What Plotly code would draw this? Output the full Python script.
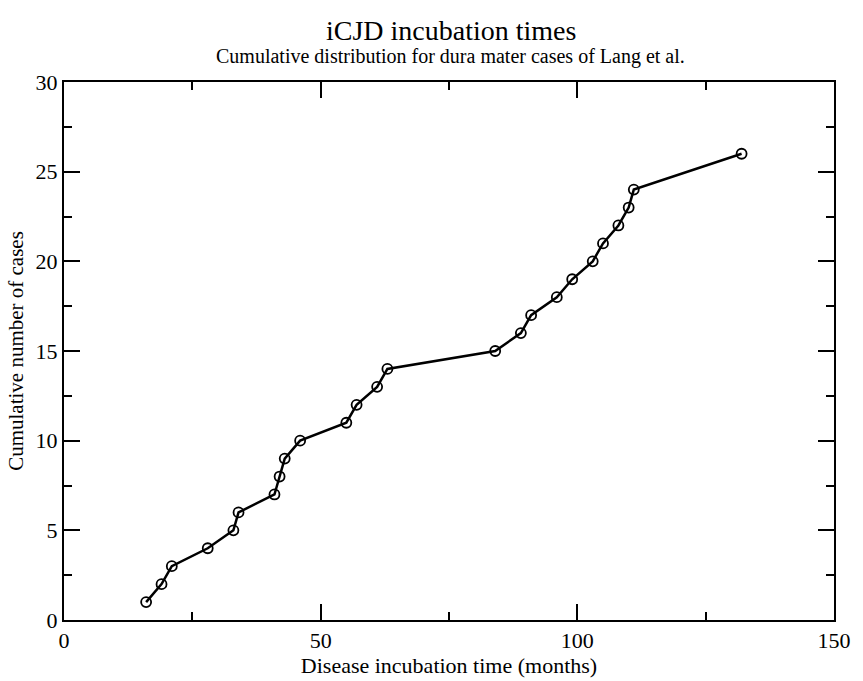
import plotly.graph_objects as go

# Incubation times (months) of dura mater iCJD cases, and the running case count
incubation_months = [16, 19, 21, 28, 33, 34, 41, 42, 43, 46, 55, 57, 61, 63,
                     84, 89, 91, 96, 99, 103, 105, 108, 110, 111, 132]
cumulative_cases = [1, 2, 3, 4, 5, 6, 7, 8, 9, 10, 11, 12, 13, 14,
                    15, 16, 17, 18, 19, 20, 21, 22, 23, 24, 26]

x_ticks = [0, 50, 100, 150]
y_ticks = [0, 5, 10, 15, 20, 25, 30]

SERIF = "Liberation Serif, Times New Roman, serif"
W, H = 863, 681
M_L, M_R, M_T, M_B = 64, 21, 82, 55

fig = go.Figure()
fig.add_trace(go.Scatter(
    x=incubation_months,
    y=cumulative_cases,
    mode="lines+markers",
    line=dict(color="black", width=2.5),
    marker=dict(symbol="circle-open", size=10, color="black",
                line=dict(width=1.8, color="black")),
    showlegend=False,
))

axis_common = dict(
    showgrid=False,
    zeroline=False,
    showline=True,
    linecolor="black",
    linewidth=2,
    mirror="ticks",
    ticks="inside",
    ticklen=16,
    tickwidth=1.5,
    tickcolor="black",
    tickfont=dict(family=SERIF, size=22, color="black"),
)

fig.update_xaxes(
    range=[0, 150],
    tickvals=x_ticks,
    ticktext=[str(v) for v in x_ticks],
    minor=dict(dtick=25, tick0=0, ticks="inside", ticklen=8,
               tickwidth=1.5, tickcolor="black"),
    title=dict(text="Disease incubation time (months)",
               font=dict(family=SERIF, size=22, color="black"), standoff=0),
    **axis_common,
)
fig.update_yaxes(
    range=[0, 30],
    tickvals=y_ticks,
    ticktext=[str(v) for v in y_ticks],
    minor=dict(dtick=2.5, tick0=0, ticks="inside", ticklen=8,
               tickwidth=1.5, tickcolor="black"),
    title=dict(text="Cumulative number of cases",
               font=dict(family=SERIF, size=21, color="black"), standoff=6),
    **axis_common,
)

plot_w = W - M_L - M_R
plot_h = H - M_T - M_B


def px_to_paper_x(px):
    return (px - M_L) / plot_w


def px_to_paper_y(py):
    return 1 + (M_T - py) / plot_h


fig.update_layout(
    width=W,
    height=H,
    margin=dict(l=M_L, r=M_R, t=M_T, b=M_B),
    paper_bgcolor="white",
    plot_bgcolor="white",
    annotations=[
        dict(text="iCJD incubation times",
             x=px_to_paper_x(455), y=px_to_paper_y(30),
             xref="paper", yref="paper", yanchor="middle", showarrow=False,
             font=dict(family=SERIF, size=28, color="black")),
        dict(text="Cumulative distribution for dura mater cases of Lang et al.",
             x=px_to_paper_x(455), y=px_to_paper_y(56),
             xref="paper", yref="paper", yanchor="middle", showarrow=False,
             font=dict(family=SERIF, size=20, color="black")),
    ],
)

fig.write_html("out.html")
